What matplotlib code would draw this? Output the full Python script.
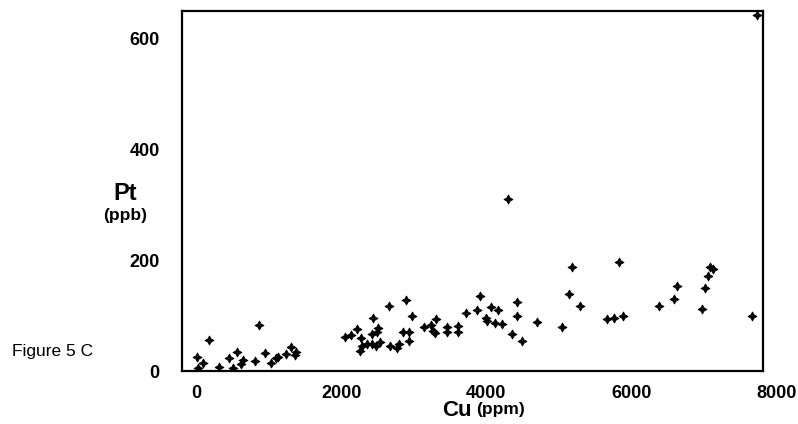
import matplotlib
matplotlib.use("Agg")
import matplotlib.pyplot as plt

# Cu (ppm) vs Pt (ppb)
cu = [12, 87, 26, 178, 316, 454, 501, 564, 638, 622,
      812, 859, 946, 1025, 1098, 1125, 1242, 1305, 1360, 1380,
      2049, 2132, 2211, 2270, 2256, 2290, 2353, 2422, 2477, 2532,
      2431, 2417, 2486, 2508, 2660, 2670, 2766, 2798, 2890, 2845,
      2936, 2928, 2980, 3134, 3239, 3308, 3270, 3297, 3456, 3460,
      3608, 3608, 3715, 3865, 3911, 3994, 4011, 4060, 4163, 4118,
      4221, 4352, 4417, 4425, 4486, 4301, 4697, 5039, 5138, 5184,
      5290, 5662, 5755, 5883, 5830, 6379, 6589, 6623, 6972, 7009,
      7052, 7083, 7128, 7666, 7727]
pt = [26, 14, 6, 56, 8, 23, 5, 35, 20, 12,
      18, 83, 32, 14, 23, 26, 30, 43, 29, 34,
      62, 65, 75, 59, 36, 45, 49, 49, 46, 52,
      95, 67, 70, 77, 117, 46, 41, 49, 128, 70,
      70, 55, 99, 79, 83, 93, 72, 68, 79, 71,
      82, 71, 104, 110, 135, 95, 91, 115, 110, 86,
      85, 66, 125, 100, 54, 311, 89, 80, 139, 187,
      117, 94, 95, 99, 196, 117, 130, 154, 112, 149,
      172, 187, 184, 99, 643]

x_ticks = [0, 2000, 4000, 6000]
y_ticks = [0, 200, 400, 600]

plt.rcParams['font.family'] = ['Liberation Sans', 'DejaVu Sans']

fig = plt.figure(figsize=(7.98, 4.24), dpi=100)
ax = fig.add_axes([0.228, 0.125, 0.728, 0.849])

ax.scatter(cu, pt, marker=(4, 1, 0), s=40, color='black', linewidths=0.7)

ax.set_xlim(-199, 7813)
ax.set_ylim(0, 650)
ax.set_xticks(x_ticks)
ax.set_yticks(y_ticks)
ax.tick_params(length=0, labelsize=13, pad=10)
ax.tick_params(axis='y', pad=16)
for lab in ax.get_xticklabels() + ax.get_yticklabels():
    lab.set_fontweight('bold')
for sp in ax.spines.values():
    sp.set_linewidth(1.6)

# last x label sits just past the right edge of the frame
ax.text(8000, -0.04, "8000", transform=ax.get_xaxis_transform(),
        ha='center', va='top', fontsize=13, fontweight='bold', clip_on=False)

ax.text(-0.098, 0.494, "Pt", transform=ax.transAxes, ha='center', va='center',
        fontsize=17, fontweight='bold')
ax.text(-0.098, 0.433, "(ppb)", transform=ax.transAxes, ha='center', va='center',
        fontsize=12.5, fontweight='bold')
ax.text(0.499, -0.11, "Cu", transform=ax.transAxes, ha='right', va='center',
        fontsize=16, fontweight='bold')
ax.text(0.507, -0.107, "(ppm)", transform=ax.transAxes, ha='left', va='center',
        fontsize=12.5, fontweight='bold')

fig.text(0.015, 0.17, "Figure 5 C", ha='left', va='center', fontsize=12.5)

fig.savefig("out.png", dpi=100)
